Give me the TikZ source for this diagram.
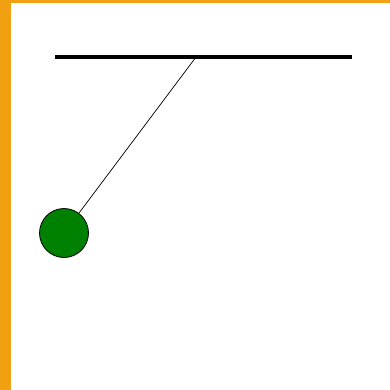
\documentclass[tikz,border=0pt]{standalone}
\usetikzlibrary{positioning}
\definecolor{frameorange}{RGB}{240,160,16}
\definecolor{bobgreen}{RGB}{0,128,0}
\begin{document}
\begin{tikzpicture}[
	x=1pt,y=-1pt,
	ceiling/.style={draw=black,line width=3.5pt},
	string/.style={draw=black,line width=0.7pt},
	bobnode/.style={
		circle,
		draw=black,
		fill=bobgreen,
		line width=0.8pt,
		minimum size=49pt,
		inner sep=0pt
	}
	]
	
	\useasboundingbox (0,0) rectangle (390,390);
	\fill[white] (0,0) rectangle (390,390);
	\fill[frameorange] (0,0) rectangle (11,390);
	\fill[frameorange] (0,0) rectangle (390,3);
	
	\coordinate (left) at (55,57);
	\coordinate (right) at (352,57);
	\coordinate (pivot) at (196,57);
	
	\node[bobnode] (bob) at (64,233) {};
	
	\draw[ceiling] (left)--(right);
	\draw[string] (pivot)--(bob);
	
\end{tikzpicture}
\end{document}
